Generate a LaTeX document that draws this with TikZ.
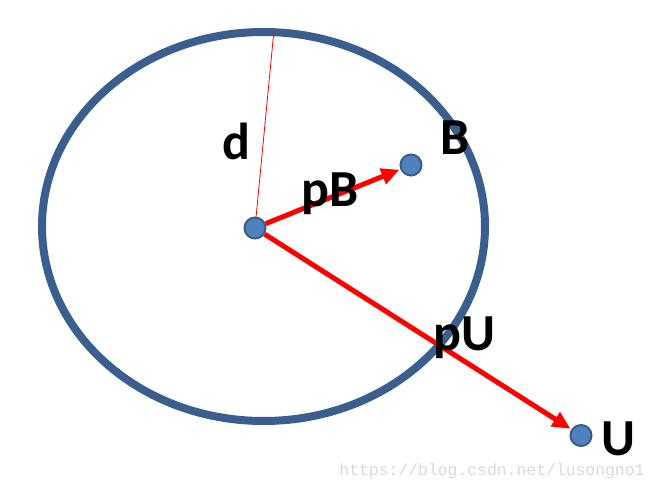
\documentclass[tikz,border=0pt]{standalone}
\usepackage{fontspec}
\setmainfont{Carlito}
\newfontfamily\markfont{Liberation Mono}
\usetikzlibrary{arrows.meta}

\definecolor{ringblue}{HTML}{3A5F8E}
\definecolor{dotfill}{HTML}{4F81BD}
\definecolor{dotline}{HTML}{385D8A}

\begin{document}
\begin{tikzpicture}[x=1pt,y=1pt,
    ring/.style={draw=ringblue,line width=8pt},
    dot/.style={circle,fill=dotfill,draw=dotline,line width=2pt,inner sep=0pt,minimum size=21pt},
    vec/.style={draw=red,line width=5pt,-{Triangle[length=18pt,width=16pt]},shorten >=1pt},
    lbl/.style={font=\fontsize{52}{52}\bfseries\selectfont,anchor=base,inner sep=0pt}]
    \useasboundingbox (0,0) rectangle (659,491);
    \draw[ring] (263.5,264.5) ellipse [x radius=221.5, y radius=194.5];
    % the points
    \node[dot] (O) at (255,263) {};
    \node[dot] (B) at (411,326) {};
    \node[dot] (U) at (581,55.5) {};
    \coordinate (top) at (274,461);
    \draw[red,line width=0.8pt] (O) -- (top);
    \draw[vec] (O) -- (B);
    \draw[vec] (O) -- (U);
    % labels
    \node[lbl] (dlbl) at (236,331) {d};
    \node[lbl] (Blbl) at (455,336) {B};
    \node[lbl] (pBlbl) at (330,284) {pB};
    \node[lbl] (pUlbl) at (464,141) {pU};
    \node[lbl] (Ulbl) at (618.5,36) {U};
    \node[font=\markfont\fontsize{16.4}{16.4}\selectfont,text=gray!30,inner sep=0pt] (mark) at (492,20) {https://blog.csdn.net/lusongno1};
\end{tikzpicture}
\end{document}
